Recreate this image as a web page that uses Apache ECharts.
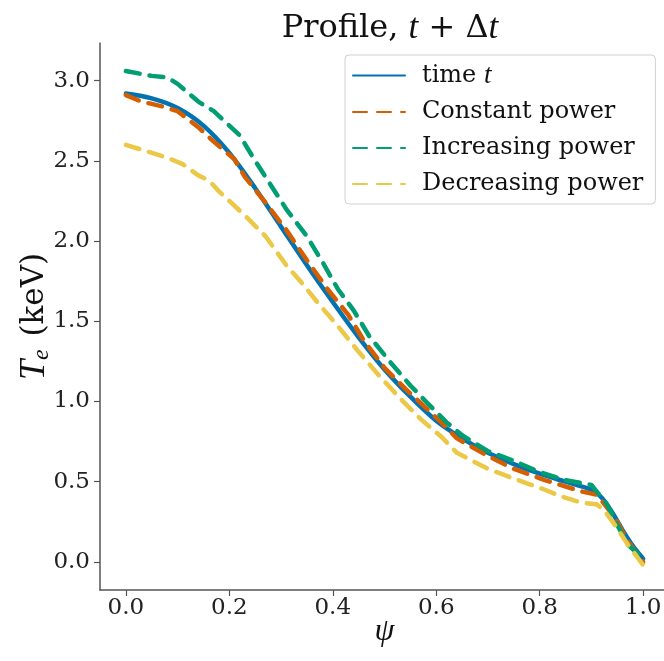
<!DOCTYPE html>
<html>
<head>
<meta charset="utf-8">
<script src="https://cdn.jsdelivr.net/npm/echarts@6/dist/echarts.min.js"></script>
<style>
html,body{margin:0;padding:0;background:#fff;}
#chart{width:664px;height:661px;}
</style>
</head>
<body>
<div id="chart"></div>
<script>
// ---- data ----
const xTicks = [0, 0.2, 0.4, 0.6, 0.8, 1.0];
const yTicks = [0, 0.5, 1.0, 1.5, 2.0, 2.5, 3.0];

const psiTime = [0, 0.05, 0.1, 0.15, 0.2, 0.25, 0.3, 0.35, 0.4, 0.45, 0.5, 0.55, 0.6, 0.65, 0.7, 0.75, 0.8, 0.85, 0.9, 0.92, 0.94, 0.96, 0.98, 1.0];
const teTime  = [2.92, 2.89, 2.83, 2.72, 2.55, 2.33, 2.09, 1.85, 1.62, 1.40, 1.20, 1.03, 0.88, 0.77, 0.68, 0.61, 0.55, 0.50, 0.45, 0.40, 0.31, 0.20, 0.10, 0.02];

const psiConst = [0, 0.03, 0.07, 0.10, 0.14, 0.17, 0.21, 0.23, 0.27, 0.31, 0.35, 0.39, 0.43, 0.46, 0.50, 0.54, 0.58, 0.61, 0.64, 0.70, 0.75, 0.81, 0.84, 0.88, 0.91, 0.93, 0.95, 0.97, 1.0];
const teConst  = [2.91, 2.87, 2.84, 2.81, 2.71, 2.62, 2.51, 2.40, 2.24, 2.07, 1.88, 1.70, 1.54, 1.38, 1.21, 1.08, 0.96, 0.87, 0.77, 0.66, 0.58, 0.51, 0.48, 0.44, 0.42, 0.34, 0.25, 0.13, 0.00];

const psiInc = [0, 0.05, 0.08, 0.10, 0.14, 0.17, 0.19, 0.22, 0.25, 0.27, 0.31, 0.35, 0.38, 0.41, 0.44, 0.47, 0.51, 0.55, 0.58, 0.62, 0.65, 0.70, 0.75, 0.80, 0.85, 0.90, 0.91, 0.93, 0.95, 0.97, 1.0];
const teInc  = [3.06, 3.03, 3.02, 2.98, 2.87, 2.81, 2.75, 2.66, 2.50, 2.40, 2.20, 2.03, 1.87, 1.70, 1.57, 1.41, 1.25, 1.10, 1.00, 0.87, 0.79, 0.69, 0.63, 0.56, 0.51, 0.48, 0.44, 0.36, 0.23, 0.11, 0.02];

const psiDec = [0, 0.04, 0.08, 0.11, 0.14, 0.16, 0.18, 0.23, 0.27, 0.31, 0.34, 0.37, 0.41, 0.45, 0.49, 0.53, 0.57, 0.61, 0.64, 0.70, 0.75, 0.81, 0.84, 0.88, 0.91, 0.925, 0.95, 0.97, 1.0];
const teDec  = [2.60, 2.56, 2.52, 2.48, 2.41, 2.38, 2.31, 2.16, 2.03, 1.85, 1.74, 1.62, 1.47, 1.31, 1.16, 1.02, 0.89, 0.78, 0.68, 0.58, 0.52, 0.45, 0.41, 0.37, 0.36, 0.32, 0.21, 0.11, -0.02];

const seriesNames = ['time t', 'Constant power', 'Increasing power', 'Decreasing power'];

function zip(xs, ys) { return xs.map((x, i) => [x, ys[i]]); }

const FONT = 'DejaVu Serif';
const chart = echarts.init(document.getElementById('chart'), null, {renderer: 'canvas'});

const dashStyle = (color) => ({
  color: color, width: 4.5, type: [14, 10], cap: 'round', join: 'round'
});
const hiddenItem = (color) => ({ color: color, opacity: 0, borderWidth: 0 });

chart.setOption({
  animation: false,
  backgroundColor: '#ffffff',
  title: {
    text: 'Profile, {i|t} + Δ{i|t}',
    left: 385, top: 6, textAlign: 'center',
    textStyle: {
      fontFamily: FONT, fontSize: 32, fontWeight: 'normal', color: '#111',
      rich: { i: { fontFamily: 'Liberation Serif', fontStyle: 'italic', fontSize: 35, color: '#111' } }
    }
  },
  legend: {
    orient: 'vertical', left: 345, top: 55,
    data: seriesNames,
    itemWidth: 52, itemHeight: 14, itemGap: 10,
    padding: [7, 12, 7, 7],
    backgroundColor: '#fff', borderColor: '#d0d0d0', borderWidth: 1, borderRadius: 4,
    itemStyle: { opacity: 0, borderWidth: 0 },
    formatter: (n) => n === 'time t' ? 'time {i|t}' : n,
    textStyle: {
      fontFamily: FONT, fontSize: 24, color: '#111', lineHeight: 26, padding: [0, 0, 0, 12],
      rich: { i: { fontFamily: 'Liberation Serif', fontStyle: 'italic', fontSize: 27, color: '#111' } }
    }
  },
  grid: { left: 100, right: -5, top: 43, bottom: 71, containLabel: false, outerBoundsMode: 'none' },
  xAxis: {
    type: 'value', min: -0.05, max: 1.05,
    name: 'ψ', nameLocation: 'middle', nameGap: 26, nameMoveOverlap: false,
    nameTextStyle: { fontFamily: 'Liberation Serif', fontStyle: 'italic', fontSize: 32, color: '#111' },
    axisLine: { show: true, onZero: false, lineStyle: { color: '#555', width: 1.5 } },
    axisTick: { show: true, length: 6, lineStyle: { color: '#555', width: 1.2 }, customValues: xTicks },
    axisLabel: { customValues: xTicks, fontFamily: FONT, fontSize: 23, color: '#222', margin: 7,
      formatter: (v) => v.toFixed(1) },
    splitLine: { show: false }
  },
  yAxis: {
    type: 'value', min: -0.175, max: 3.235,
    name: '{i|T}{s|e} (keV)', nameLocation: 'middle', nameGap: 46, nameRotate: 90, nameMoveOverlap: false,
    nameTextStyle: {
      fontFamily: FONT, fontSize: 31, color: '#111',
      rich: {
        i: { fontFamily: 'Liberation Serif', fontStyle: 'italic', fontSize: 36, color: '#111' },
        s: { fontFamily: 'Liberation Serif', fontStyle: 'italic', fontSize: 24, color: '#111', padding: [14, 3, 0, 0] }
      }
    },
    axisLine: { show: true, onZero: false, lineStyle: { color: '#555', width: 1.5 } },
    axisTick: { show: true, length: 6, lineStyle: { color: '#555', width: 1.2 }, customValues: yTicks },
    axisLabel: { customValues: yTicks, fontFamily: FONT, fontSize: 23, color: '#222', margin: 10,
      formatter: (v) => v.toFixed(1) },
    splitLine: { show: false }
  },
  series: [
    { name: seriesNames[0], type: 'line', data: zip(psiTime, teTime), showSymbol: false, symbol: 'none',
      smooth: 0.3, lineStyle: { color: '#0173B2', width: 4.5, cap: 'round', join: 'round' }, itemStyle: hiddenItem('#0173B2') },
    { name: seriesNames[1], type: 'line', data: zip(psiConst, teConst), showSymbol: false, symbol: 'none',
      lineStyle: dashStyle('#D55E00'), itemStyle: hiddenItem('#D55E00') },
    { name: seriesNames[2], type: 'line', data: zip(psiInc, teInc), showSymbol: false, symbol: 'none',
      lineStyle: dashStyle('#029E73'), itemStyle: hiddenItem('#029E73') },
    { name: seriesNames[3], type: 'line', data: zip(psiDec, teDec), showSymbol: false, symbol: 'none',
      lineStyle: dashStyle('#EBC846'), itemStyle: hiddenItem('#EBC846') }
  ]
});
</script>
</body>
</html>
